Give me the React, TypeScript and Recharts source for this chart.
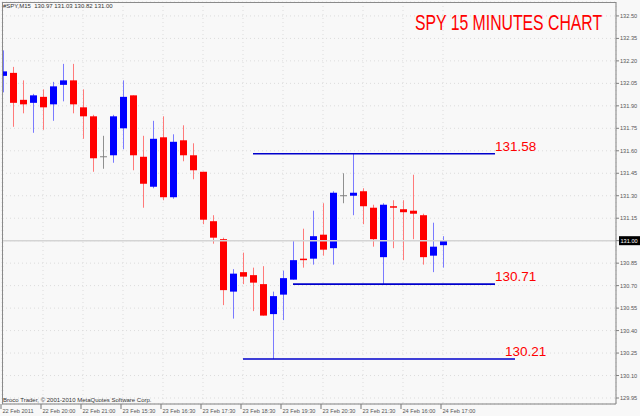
import { ComposedChart, Bar, XAxis, YAxis, CartesianGrid, ReferenceLine } from "recharts";

// 15 minute bars
const opens = [
  132.1, 132.12, 131.94, 131.92, 131.96, 131.91, 132.04, 132.07, 131.89, 131.83,
  131.56, 131.57, 131.75, 131.97, 131.56, 131.36, 131.69, 131.29, 131.67, 131.57,
  131.46, 131.13, 131.01, 130.66, 130.79, 130.77, 130.71, 130.51, 130.64, 130.74,
  130.88, 130.88, 131.04, 130.95, 131.3, 131.3, 131.33, 131.22, 130.89, 131.23,
  131.21, 131.2, 131.17, 130.9, 130.97,
];
const highs = [
  132.27, 132.16, 132.07, 131.98, 132.01, 132.06, 132.18, 132.18, 132.01, 131.84,
  131.7, 131.84, 132.07, 131.97, 131.7, 131.8, 131.83, 131.71, 131.77, 131.65,
  131.46, 131.17, 131.02, 130.81, 130.92, 130.82, 130.83, 130.66, 130.8, 131.0,
  131.08, 131.2, 131.25, 131.33, 131.45, 131.58, 131.35, 131.24, 131.25, 131.27,
  131.27, 131.44, 131.18, 131.12, 131.03,
];
const lows = [
  131.99, 131.76, 131.85, 131.72, 131.74, 131.8, 131.93, 131.85, 131.68, 131.46,
  131.48, 131.52, 131.61, 131.47, 131.22, 131.35, 131.27, 131.28, 131.53, 131.41,
  131.11, 130.98, 130.57, 130.48, 130.71, 130.53, 130.5, 130.21, 130.47, 130.74,
  130.82, 130.84, 130.9, 130.84, 131.25, 131.17, 131.11, 130.96, 130.71, 130.95,
  130.87, 131.01, 130.84, 130.79, 130.82,
];
const closes = [
  132.13, 131.92, 131.91, 131.97, 131.89, 132.03, 132.07, 131.91, 131.83, 131.55,
  131.56, 131.83, 131.96, 131.57, 131.38, 131.68, 131.29, 131.66, 131.57, 131.47,
  131.14, 131.02, 130.67, 130.78, 130.76, 130.72, 130.5, 130.63, 130.75, 130.87,
  130.87, 131.03, 130.94, 131.32, 131.3, 131.32, 131.23, 131.01, 131.24, 131.22,
  131.19, 131.18, 130.89, 130.96, 131.0,
];

const timeLabels = [
  "22 Feb 2011", "22 Feb 20:00", "22 Feb 21:00", "23 Feb 15:30", "23 Feb 16:30", "23 Feb 17:30",
  "23 Feb 18:30", "23 Feb 19:30", "23 Feb 20:30", "23 Feb 21:30", "24 Feb 16:00", "24 Feb 17:00",
];
const barsPerLabel = 4;

const priceTicks = [
  132.5, 132.35, 132.2, 132.05, 131.9, 131.75, 131.6, 131.45, 131.3, 131.15,
  131.0, 130.85, 130.7, 130.55, 130.4, 130.25, 130.1, 129.95,
];
const lastPrice = 131.0;

// drawn support / resistance levels (bar index where each line starts / ends)
const levels = [131.58, 130.71, 130.21];
const levelStart = [25, 29, 24];
const levelEnd = [49.2, 49.2, 51.2];
const levelLabelShift = [0, 0, -10];

const data = opens.map((o, i) => ({
  i,
  open: o,
  high: highs[i],
  low: lows[i],
  close: closes[i],
  range: [lows[i], highs[i]],
}));

const Candle = (props: any) => {
  const { x, y, width, height, payload } = props;
  const { open, close, high, low } = payload;
  const top = Math.min(y, y + height);
  const h = Math.abs(height);
  const k = high === low ? 0 : h / (high - low);
  const py = (v: number) => top + (high - v) * k;
  const cx = Math.round(x + width / 2) + 0.5;
  if (open === close) {
    return (
      <g>
        <line x1={cx} x2={cx} y1={top} y2={top + h} stroke="#909090" />
        <line x1={cx - 3.5} x2={cx + 3.5} y1={py(open)} y2={py(open)} stroke="#808080" />
      </g>
    );
  }
  const up = close > open;
  const col = up ? "#0000ff" : "#ff0000";
  const wick = up ? "#7a7aff" : "#ff7a7a";
  const y1 = py(Math.max(open, close));
  const y2 = py(Math.min(open, close));
  return (
    <g>
      <line x1={cx} x2={cx} y1={top} y2={top + h} stroke={wick} />
      <rect x={cx - 3.5} y={y1} width={7} height={Math.max(1.5, y2 - y1)} fill={col} />
    </g>
  );
};

const PriceTick = (props: any) => {
  const { x, y, payload } = props;
  const v = payload.value as number;
  if (Math.abs(v - lastPrice) < 1e-6) {
    return (
      <g>
        <rect x={x - 1} y={y - 4.5} width={21} height={9} fill="#000" />
        <text x={x + 0.5} y={y + 2} fontSize={5.6} fill="#fff" fontFamily="Liberation Sans, Arial">
          {v.toFixed(2)}
        </text>
      </g>
    );
  }
  return (
    <text x={x} y={y + 2} fontSize={5.6} fill="#555" fontFamily="Liberation Sans, Arial">
      {v.toFixed(2)}
    </text>
  );
};

const TimeTick = (props: any) => {
  const { x, payload } = props;
  const label = timeLabels[Math.round(payload.value / barsPerLabel)];
  const tx = x - 2;
  return (
    <g>
      <line x1={tx} x2={tx} y1={404} y2={409} stroke="#777" />
      <text x={tx + 1.5} y={413} fontSize={5.6} fill="#555" fontFamily="Liberation Sans, Arial">
        {label}
      </text>
    </g>
  );
};

const LevelLabel = (props: any) => {
  const { viewBox, text, shift } = props;
  if (!viewBox) return null;
  return (
    <text
      x={viewBox.x + viewBox.width + shift}
      y={viewBox.y - 3}
      fontSize={13.5}
      fill="#ff0000"
      fontFamily="Liberation Sans, Arial"
    >
      {text}
    </text>
  );
};

const xTicks = timeLabels.map((_, k) => k * barsPerLabel);

export default function App() {
  return (
    <div style={{ position: "relative", width: 640, height: 416, background: "#f8f8f8" }}>
      <style>{"body{margin:0}"}</style>
      <ComposedChart
        width={640}
        height={416}
        data={data}
        margin={{ top: 2, right: 0, bottom: 0, left: 2 }}
      >
        <CartesianGrid stroke="#dcdcdc" strokeDasharray="1 3" />
        <XAxis
          dataKey="i"
          type="number"
          domain={[-0.1, 61.3]}
          allowDataOverflow
          ticks={xTicks}
          interval={0}
          height={12}
          tickLine={false}
          axisLine={{ stroke: "#808080" }}
          tick={<TimeTick />}
        />
        <YAxis
          orientation="right"
          domain={[129.91, 132.593]}
          allowDataOverflow
          ticks={priceTicks}
          interval={0}
          width={24}
          tickSize={3}
          tickMargin={1}
          tickLine={{ stroke: "#808080" }}
          axisLine={{ stroke: "#808080" }}
          tick={<PriceTick />}
        />
        <ReferenceLine y={lastPrice} stroke="#d4d4d4" strokeWidth={1.5} />
        <Bar dataKey="range" barSize={7} shape={<Candle />} isAnimationActive={false} />
        {levels.map((lv, k) => (
          <ReferenceLine
            key={lv}
            segment={[
              { x: levelStart[k], y: lv },
              { x: levelEnd[k], y: lv },
            ]}
            stroke="#0000cc"
            strokeWidth={1.6}
            ifOverflow="visible"
            label={<LevelLabel text={lv.toFixed(2)} shift={levelLabelShift[k]} />}
          />
        ))}
      </ComposedChart>
      <div
        style={{
          position: "absolute",
          left: 2,
          top: 2,
          width: 614,
          height: 402,
          border: "1px solid #8a8a8a",
          borderRight: "none",
          borderBottom: "none",
          boxSizing: "border-box",
          pointerEvents: "none",
        }}
      />
      <div
        style={{
          position: "absolute",
          left: 3,
          top: 3,
          fontSize: 6,
          fontFamily: "Liberation Sans, Arial",
          color: "#333",
          whiteSpace: "pre",
        }}
      >
        {"#SPY,M15  130.97 131.03 130.82 131.00"}
      </div>
      <div
        style={{
          position: "absolute",
          left: 3,
          top: 397,
          fontSize: 6,
          fontFamily: "Liberation Sans, Arial",
          color: "#333",
          whiteSpace: "pre",
        }}
      >
        {"Broco Trader, © 2001-2010 MetaQuotes Software Corp."}
      </div>
      <svg style={{ position: "absolute", left: 0, top: 0, pointerEvents: "none" }} width={640} height={40}>
        <text
          transform="translate(415,30) scale(1,1.35)"
          fontSize={15.8}
          fill="#ff0000"
          fontFamily="Liberation Sans, Arial"
        >
          SPY 15 MINUTES CHART
        </text>
      </svg>
    </div>
  );
}
